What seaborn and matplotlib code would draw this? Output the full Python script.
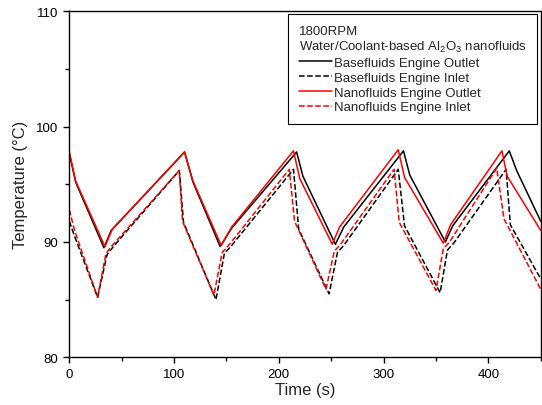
import matplotlib
matplotlib.use('Agg')

import matplotlib.pyplot as plt
from matplotlib.ticker import MultipleLocator
import seaborn as sns
import pandas as pd

# Basefluids engine outlet (black solid)
base_out_t = [0, 6, 33, 40, 110, 118, 144, 155, 217, 223, 254, 262, 319, 325, 359, 366, 420, 427, 450]
base_out_T = [97.7, 95.2, 89.5, 91.0, 97.8, 95.2, 89.6, 91.2, 97.8, 95.7, 89.8, 91.3, 97.9, 95.8, 90.0, 91.4, 97.9, 96.2, 91.8]

# Basefluids engine inlet (black dashed)
base_in_t = [0, 5, 27, 36, 42, 105, 109, 140, 148, 155, 214, 219, 248, 256, 262, 314, 320, 354, 361, 367, 417, 421, 450]
base_in_T = [91.8, 90.5, 85.2, 88.9, 89.6, 96.2, 91.7, 85.0, 89.0, 89.7, 96.3, 91.1, 85.5, 89.1, 89.7, 96.3, 91.4, 85.6, 89.3, 89.9, 96.3, 91.5, 86.8]

# Nanofluids engine outlet (red solid)
nano_out_t = [0, 6, 34, 41, 110, 118, 145, 155, 214, 220, 251, 258, 314, 320, 357, 364, 413, 418, 450]
nano_out_T = [97.8, 95.3, 89.6, 91.1, 97.8, 95.3, 89.7, 91.3, 97.9, 95.5, 89.8, 91.3, 98.0, 95.6, 89.9, 91.5, 97.9, 95.7, 91.0]

# Nanofluids engine inlet (red dashed)
nano_in_t = [0, 5, 27, 35, 41, 105, 108, 138, 146, 153, 210, 215, 245, 253, 259, 310, 315, 350, 357, 363, 408, 415, 450]
nano_in_T = [92.8, 91.0, 85.2, 89.0, 89.7, 96.2, 91.8, 85.4, 89.1, 89.8, 96.3, 91.8, 85.9, 89.2, 89.8, 96.3, 91.7, 85.8, 89.4, 90.0, 96.4, 92.0, 85.9]

labels = ['Basefluids Engine Outlet', 'Basefluids Engine Inlet',
          'Nanofluids Engine Outlet', 'Nanofluids Engine Inlet']

sns.set_style('ticks')
plt.rcParams['font.family'] = ['Liberation Sans', 'DejaVu Sans']
plt.rcParams['mathtext.fontset'] = 'custom'
plt.rcParams['mathtext.rm'] = 'Liberation Sans'

series = [(base_out_t, base_out_T, 'black', '-'),
          (base_in_t, base_in_T, 'black', '--'),
          (nano_out_t, nano_out_T, 'red', '-'),
          (nano_in_t, nano_in_T, 'red', '--')]

fig = plt.figure(figsize=(5.42, 4.06), dpi=100)
ax = fig.add_axes([0.1279, 0.1175, 0.8697, 0.8522])

for (t, T, c, ls), lab in zip(series, labels):
    df = pd.DataFrame({'t': t, 'T': T})
    sns.lineplot(data=df, x='t', y='T', color=c, linestyle=ls, lw=1.1,
                 estimator=None, label=lab, ax=ax)

ax.set_xlim(0, 450)
ax.set_ylim(80, 110)
ax.xaxis.set_major_locator(MultipleLocator(100))
ax.xaxis.set_minor_locator(MultipleLocator(50))
ax.yaxis.set_major_locator(MultipleLocator(10))
ax.yaxis.set_minor_locator(MultipleLocator(5))
ax.tick_params(which='major', direction='out', length=4.5, width=1, labelsize=9.5,
               top=False, right=False, color='black', labelcolor='black')
ax.tick_params(which='minor', direction='out', length=3, width=1,
               top=False, right=False, color='black')
for s in ax.spines.values():
    s.set_linewidth(1.0)
    s.set_color('black')

ax.set_xlabel('Time (s)', fontsize=12, labelpad=1)
ax.set_ylabel('Temperature (\u00b0C)', fontsize=12, labelpad=6)

leg = ax.legend(title='1800RPM\nWater/Coolant-based Al$_\\mathregular{2}$O$_\\mathregular{3}$ nanofluids',
                title_fontsize=9.5, fontsize=9.5, loc='upper right',
                bbox_to_anchor=(0.992, 0.992), borderaxespad=0,
                fancybox=False, edgecolor='black', framealpha=1,
                handlelength=2.5, handletextpad=0.2, labelspacing=0.2,
                alignment='left', borderpad=0.8)
leg.get_frame().set_linewidth(0.8)

fig.savefig('out.png', dpi=100)
